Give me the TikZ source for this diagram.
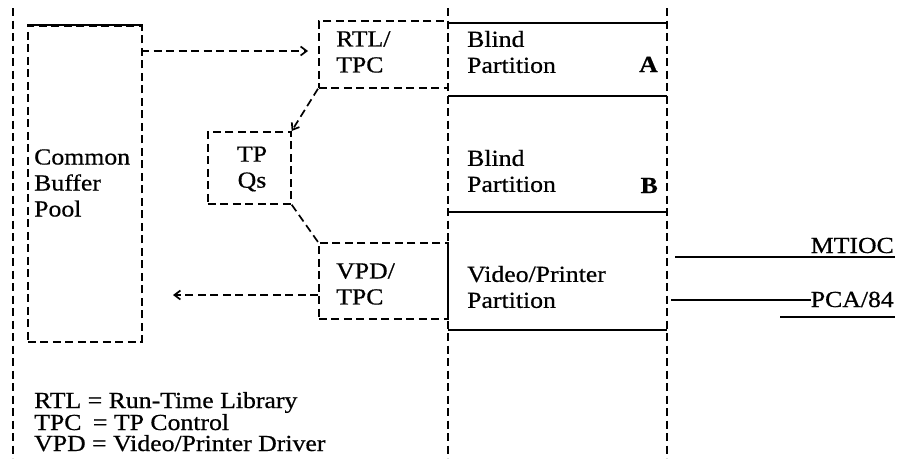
\documentclass[tikz,border=0pt]{standalone}
\usepackage{fontspec}
\setmainfont[FakeStretch=1.12,FakeBold=0.6]{Liberation Serif}
\usetikzlibrary{arrows.meta}
\begin{document}
\begin{tikzpicture}[x=1pt,y=-1pt,
  dsh/.style={line width=1.7pt, dash pattern=on 8pt off 4.5pt},
  sol/.style={line width=1.7pt},
  dbox/.style={dsh, draw, inner sep=0pt, anchor=north west},
  lbl/.style={inner sep=0pt, align=left, font=\fontsize{23}{26}\selectfont},
  leg/.style={inner sep=0pt, anchor=base west, font=\fontsize{23}{23}\selectfont},
  arr/.style={dsh, -{Straight Barb[length=6pt,width=9pt]}}]
\useasboundingbox (0,0) rectangle (897,458);
% left boundary
\coordinate (lt) at (13,8); \coordinate (lb) at (13,458);
\draw[dsh] (lt) -- (lb);
% common buffer pool
\node[dbox, minimum width=114pt, minimum height=316pt] (cbp) at (27,25) {};
\draw[sol] (cbp.north west) -- (cbp.north east);
\node[lbl, anchor=west] (cbpt) at (34,183) {Common\\Buffer\\Pool};
% RTL/TPC
\node[dbox, minimum width=129pt, minimum height=67pt] (rtl) at (318,20) {};
\node[lbl, anchor=west] (rtlt) at (336,52) {RTL/\\TPC};
% TP Qs
\node[dbox, minimum width=83pt, minimum height=72pt] (tpq) at (207,131) {};
\node[lbl, align=center] (tpqt) at (252,169) {TP\\Qs};
% VPD/TPC
\node[dbox, minimum width=129pt, minimum height=76pt] (vpd) at (318,242) {};
\node[lbl, anchor=west] (vpdt) at (336,284) {VPD/\\TPC};
% partitions column
\coordinate (c1t) at (448,8); \coordinate (c1b) at (448,458);
\coordinate (c2t) at (667,8); \coordinate (c2b) at (667,458);
\draw[dsh] (c1t) -- (c1b);
\draw[dsh] (c2t) -- (c2b);
\foreach \yy/\nm in {23/h1,96/h2,212/h3,330/h4}{
  \coordinate (\nm l) at (448,\yy); \coordinate (\nm r) at (667,\yy);
  \draw[sol] (\nm l) -- (\nm r);
}
\node[lbl, anchor=west] (pa) at (467,52) {Blind\\Partition};
\node[lbl, anchor=base east, font=\fontsize{23}{26}\selectfont\bfseries] (pal) at (658,72) {A};
\node[lbl, anchor=west] (pb) at (467,171) {Blind\\Partition};
\node[lbl, anchor=base east, font=\fontsize{23}{26}\selectfont\bfseries] (pbl) at (658,193) {B};
\node[lbl, anchor=west] (pv) at (467,287) {Video/Printer\\Partition};
% connectors
\coordinate (a1s) at (141,51); \coordinate (a1e) at (308,51);
\draw[arr] (a1s) -- (a1e);
\draw[arr] (rtl.south west) -- (tpq.north east);
\draw[dsh] (tpq.south east) -- (vpd.north west);
\coordinate (a2s) at (318,295); \coordinate (a2e) at (173,295);
\draw[arr] (a2s) -- (a2e);
% right side lines
\coordinate (m1) at (675,257); \coordinate (m2) at (895,257);
\draw[sol] (m1) -- (m2);
\node[lbl, anchor=base east] (mt) at (894,253) {MTIOC};
\node[lbl, anchor=base east] (pca) at (894,307) {PCA/84};
\coordinate (p1) at (671,300);
\draw[sol] (p1) -- (pca.west |- p1);
\coordinate (u1) at (780,317); \coordinate (u2) at (895,317);
\draw[sol] (u1) -- (u2);
% legend
\node[leg] (leg1) at (34,408) {RTL = Run-Time Library};
\node[leg] (leg2) at (34,430) {TPC\,\,\,= TP Control};
\node[leg] (leg3) at (34,451) {VPD = Video/Printer Driver};
\end{tikzpicture}
\end{document}
